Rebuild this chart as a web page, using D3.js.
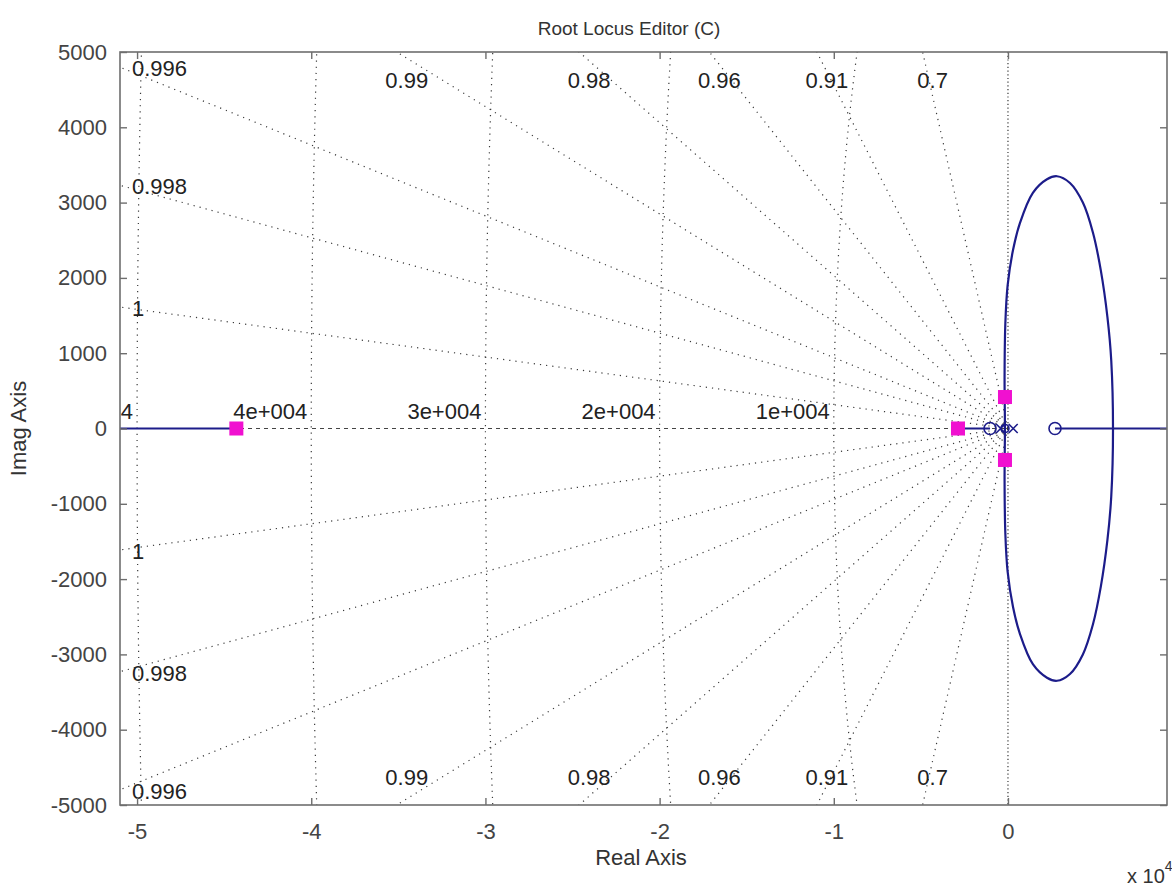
<!DOCTYPE html>
<html>
<head>
<meta charset="utf-8">
<script src="https://cdn.jsdelivr.net/npm/d3@7"></script>
<style>
  html, body { margin: 0; padding: 0; background: #fff; }
  svg text { font-family: "Liberation Sans", Arial, sans-serif; }
</style>
</head>
<body>
<div id="viz"></div>
<script>
// damping ratio rays (value used for drawing, label as shown)
const zetaValues = [0.9995, 0.998, 0.9956, 0.99, 0.98, 0.96, 0.91, 0.7];
const zetaLabels = ['1', '0.998', '0.996', '0.99', '0.98', '0.96', '0.91', '0.7'];

// natural frequency circles
const wnValues = [10000, 20000, 30000, 40000, 50000];
const wnLabels = ['1e+004', '2e+004', '3e+004', '4e+004', '5e+004'];

const xTicks = [-50000, -40000, -30000, -20000, -10000, 0];
const xTickLabels = ['-5', '-4', '-3', '-2', '-1', '0'];
const yTicks = [-5000, -4000, -3000, -2000, -1000, 0, 1000, 2000, 3000, 4000, 5000];
const yTickLabels = ['-5000', '-4000', '-3000', '-2000', '-1000', '0', '1000', '2000', '3000', '4000', '5000'];

// upper branch of the complex locus, left to right (lower branch is its conjugate)
const locusRe = [-175, -195, -150, -20, 290, 690, 1430, 2240, 2810, 3560, 4300, 4880, 5330, 5710, 5930, 6030];
const locusIm = [0, 700, 1400, 1900, 2370, 2730, 3130, 3310, 3350, 3260, 3000, 2600, 2100, 1480, 900, 0];

// real-axis locus segments
const realSegStart = [-60000, -2870, 2700];
const realSegEnd = [-44300, -1030, 20000];

// closed-loop poles (magenta squares)
const clRe = [-44300, -2870, -172, -172];
const clIm = [0, 0, 418, -418];

// open-loop zeros and poles
const zeroRe = [-1030, 2700, -172];
const poleRe = [-420, 300];

const width = 1172, height = 885;
const margin = { top: 52, right: 5, bottom: 80, left: 120 };
const innerWidth = width - margin.left - margin.right;
const innerHeight = height - margin.top - margin.bottom;

const svg = d3.select('#viz').append('svg')
  .attr('width', width)
  .attr('height', height);

const x = d3.scaleLinear().domain([-50980, 9130]).range([0, innerWidth]);
const y = d3.scaleLinear().domain([-5000, 5000]).range([innerHeight, 0]);

svg.append('defs').append('clipPath').attr('id', 'plotclip')
  .append('rect').attr('width', innerWidth).attr('height', innerHeight);

const chart = svg.append('g')
  .attr('transform', `translate(${margin.left},${margin.top})`);

const plot = chart.append('g').attr('clip-path', 'url(#plotclip)');

const gridColor = '#3a3a3a';
const labelColor = '#222';

// wn circles (nearly vertical at this aspect)
wnValues.forEach((wn, i) => {
  const pts = d3.range(-90, 90.5, 0.5).map(a => {
    const r = a * Math.PI / 180;
    return [-wn * Math.cos(r), wn * Math.sin(r)];
  });
  plot.append('path')
    .datum(pts)
    .attr('fill', 'none')
    .attr('stroke', gridColor)
    .attr('stroke-width', 1.2)
    .attr('stroke-dasharray', '1.2,5')
    .attr('d', d3.line().x(d => x(d[0])).y(d => y(d[1])));
  plot.append('text')
    .attr('x', x(-wn) - 4)
    .attr('y', y(0) - 10)
    .attr('text-anchor', 'end')
    .attr('font-size', 22)
    .attr('fill', labelColor)
    .text(wnLabels[i]);
});

// zeta rays
const xMin = x.domain()[0];
zetaValues.forEach((z, i) => {
  const t = Math.sqrt(1 - z * z) / z;
  [1, -1].forEach(s => {
    plot.append('line')
      .attr('x1', x(0)).attr('y1', y(0))
      .attr('x2', x(-200000)).attr('y2', y(s * 200000 * t))
      .attr('stroke', gridColor)
      .attr('stroke-width', 1.2)
      .attr('stroke-dasharray', '1.2,5');
    const xTop = -5000 / t;
    const lbl = plot.append('text')
      .attr('font-size', 22)
      .attr('fill', labelColor)
      .text(zetaLabels[i]);
    if (xTop > xMin) {
      lbl.attr('x', x(xTop) + 10)
        .attr('text-anchor', 'middle')
        .attr('y', s > 0 ? 36 : innerHeight - 20);
    } else {
      lbl.attr('x', 12)
        .attr('text-anchor', 'start')
        .attr('y', y(s * -xMin * t) + 9);
    }
  });
});

// imaginary axis
plot.append('line')
  .attr('x1', x(0)).attr('x2', x(0))
  .attr('y1', 0).attr('y2', innerHeight)
  .attr('stroke', gridColor)
  .attr('stroke-width', 1.2)
  .attr('stroke-dasharray', '1.2,2.5');

// negative real axis (dashed)
plot.append('line')
  .attr('x1', 0).attr('x2', x(0))
  .attr('y1', y(0)).attr('y2', y(0))
  .attr('stroke', '#444')
  .attr('stroke-width', 1.2)
  .attr('stroke-dasharray', '4,4');

const blue = '#1c1c8a';

// real-axis locus
realSegStart.forEach((a, i) => {
  plot.append('line')
    .attr('x1', x(a)).attr('x2', x(realSegEnd[i]))
    .attr('y1', y(0)).attr('y2', y(0))
    .attr('stroke', blue)
    .attr('stroke-width', 2);
});

// complex locus: upper branch plus its conjugate, drawn as one closed curve
const upper = locusRe.map((r, i) => [r, locusIm[i]]);
const lower = upper.slice(1, -1).reverse().map(d => [d[0], -d[1]]);
plot.append('path')
  .datum(upper.concat(lower))
  .attr('fill', 'none')
  .attr('stroke', blue)
  .attr('stroke-width', 2.2)
  .attr('d', d3.line().x(d => x(d[0])).y(d => y(d[1])).curve(d3.curveCatmullRomClosed.alpha(0.5)));

// open-loop zeros
plot.selectAll('.zero')
  .data(zeroRe)
  .enter()
  .append('circle')
  .attr('cx', d => x(d))
  .attr('cy', y(0))
  .attr('r', (d, i) => i === 2 ? 4 : 6)
  .attr('fill', 'none')
  .attr('stroke', blue)
  .attr('stroke-width', 1.6);

// open-loop poles
poleRe.forEach(p => {
  const cx = x(p), cy = y(0), h = 4.5;
  plot.append('path')
    .attr('d', `M${cx - h},${cy - h}L${cx + h},${cy + h}M${cx - h},${cy + h}L${cx + h},${cy - h}`)
    .attr('stroke', blue)
    .attr('stroke-width', 1.6);
});

// closed-loop poles
plot.selectAll('.clpole')
  .data(clRe.map((r, i) => [r, clIm[i]]))
  .enter()
  .append('rect')
  .attr('x', d => x(d[0]) - 7)
  .attr('y', d => y(d[1]) - 7)
  .attr('width', 14)
  .attr('height', 14)
  .attr('fill', '#f010d0');

// axes box and ticks
const axisColor = '#6e6e6e';
chart.append('rect')
  .attr('width', innerWidth).attr('height', innerHeight)
  .attr('fill', 'none')
  .attr('stroke', axisColor)
  .attr('stroke-width', 1.6);

const tickLen = 7;
const xAxis = chart.append('g').attr('transform', `translate(0,${innerHeight})`)
  .call(d3.axisBottom(x).tickValues(xTicks).tickSizeInner(-tickLen).tickSizeOuter(0).tickPadding(18)
    .tickFormat((d, i) => xTickLabels[i]));
const xAxisTop = chart.append('g')
  .call(d3.axisTop(x).tickValues(xTicks).tickSizeInner(-tickLen).tickSizeOuter(0).tickFormat(''));
const yAxis = chart.append('g')
  .call(d3.axisLeft(y).tickValues(yTicks).tickSizeInner(-tickLen).tickSizeOuter(0).tickPadding(13)
    .tickFormat((d, i) => yTickLabels[i]));
const yAxisRight = chart.append('g').attr('transform', `translate(${innerWidth},0)`)
  .call(d3.axisRight(y).tickValues(yTicks).tickSizeInner(-tickLen).tickSizeOuter(0).tickFormat(''));

[xAxis, xAxisTop, yAxis, yAxisRight].forEach(g => {
  g.select('.domain').remove();
  g.selectAll('line').attr('stroke', axisColor).attr('stroke-width', 1.4);
  g.selectAll('text')
    .attr('font-family', '"Liberation Sans", Arial, sans-serif')
    .attr('font-size', 22)
    .attr('fill', '#444');
});

// titles
svg.append('text')
  .attr('x', 629)
  .attr('y', 35)
  .attr('text-anchor', 'middle')
  .attr('font-size', 19)
  .attr('fill', '#333')
  .text('Root Locus Editor (C)');

svg.append('text')
  .attr('x', 641)
  .attr('y', 865)
  .attr('text-anchor', 'middle')
  .attr('font-size', 22)
  .attr('fill', '#333')
  .text('Real Axis');

svg.append('text')
  .attr('transform', `translate(26,${margin.top + y(0)}) rotate(-90)`)
  .attr('text-anchor', 'middle')
  .attr('font-size', 22)
  .attr('fill', '#333')
  .text('Imag Axis');

const exp = svg.append('text')
  .attr('x', 1127)
  .attr('y', 883)
  .attr('font-size', 20)
  .attr('fill', '#333');
exp.append('tspan').text('x 10');
exp.append('tspan').attr('dy', -12).attr('font-size', 14).text('4');
</script>
</body>
</html>
